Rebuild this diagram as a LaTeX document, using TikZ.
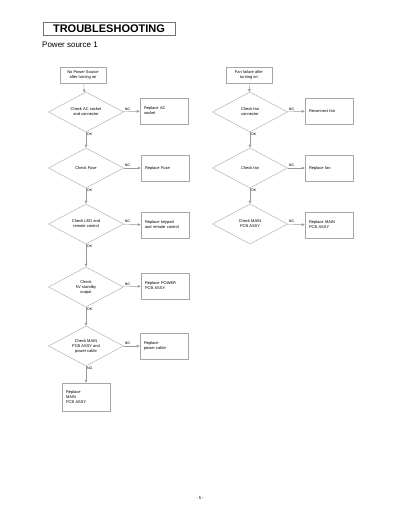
\documentclass[tikz,border=0pt]{standalone}
\usepackage{fontspec}
\setmainfont{Liberation Sans}
\usetikzlibrary{shapes.geometric,arrows.meta}
\tikzset{
  chk/.style={draw=gray!70, diamond, aspect=1.9, minimum width=75pt, minimum height=40pt, inner sep=0pt, align=center, font=\fontsize{4}{5}\selectfont},
  fixbox/.style={draw=gray!70, minimum width=48pt, minimum height=26pt, text width=40pt, align=left, font=\fontsize{4}{5}\selectfont},
  startbox/.style={draw=gray!70, minimum width=46pt, minimum height=16pt, align=center, font=\fontsize{4}{5}\selectfont},
  flow/.style={draw=gray!80, -{Latex[length=3pt,width=3pt]}},
  lbl/.style={font=\fontsize{3.5}{4}\selectfont, inner sep=1pt}
}
\begin{document}
\begin{tikzpicture}[x=1pt,y=-1pt]
\useasboundingbox (0,0) rectangle (400,518);
\node[draw=gray!90!black, line width=0.9pt, minimum width=132pt, minimum height=13pt, inner sep=0pt, font=\fontsize{11}{12}\selectfont\bfseries] (title) at (109,28.5) {TROUBLESHOOTING};
\node[anchor=west, font=\fontsize{8}{9}\selectfont, inner sep=0pt] (sub) at (42,45) {Power source 1};
% left column
\node[startbox] (np) at (83,75) {No Power Source\\after turning on};
\node[chk] (c1) at (86,112) {Check AC socket\\and connector};
\node[fixbox] (r1) at (164,111) {Replace AC\\socket};
\node[chk] (c2) at (86,168) {Check Fuse};
\node[fixbox] (r2) at (165,168) {Replace Fuse};
\node[chk] (c3) at (86,224) {Check LED and\\remote control};
\node[fixbox] (r3) at (165,225) {Replace keypad\\and remote control};
\node[chk] (c4) at (86,287) {Check\\5V standby\\output};
\node[fixbox] (r4) at (165,286) {Replace POWER\\PCB ASSY};
\node[chk] (c5) at (86,346) {Check MAIN\\PCB ASSY and\\power cable};
\node[fixbox] (r5) at (164,346) {Replace\\power cable};
\node[fixbox, minimum height=28pt] (r6) at (86,397) {Replace\\MAIN\\PCB ASSY};
\draw[flow] (np) -- (c1);
\draw[flow] (c1) -- (c2);
\draw[flow] (c2) -- (c3);
\draw[flow] (c3) -- (c4);
\draw[flow] (c4) -- (c5);
\draw[flow] (c5) -- (r6);
\draw[flow] (c1) -- (r1);
\draw[flow] (c2) -- (r2);
\draw[flow] (c3) -- (r3);
\draw[flow] (c4) -- (r4);
\draw[flow] (c5) -- (r5);
\node[lbl, anchor=south west] (ng1) at (c1.east) {NG};
\node[lbl, anchor=south west] (ng2) at (c2.east) {NG};
\node[lbl, anchor=south west] (ng3) at (c3.east) {NG};
\node[lbl, anchor=south west] (ng4) at (c4.east) {NG};
\node[lbl, anchor=south west] (ng5) at (c5.east) {NG};
\node[lbl, anchor=north west] (ok1) at (c1.south) {OK};
\node[lbl, anchor=north west] (ok2) at (c2.south) {OK};
\node[lbl, anchor=north west] (ok3) at (c3.south) {OK};
\node[lbl, anchor=north west] (ok4) at (c4.south) {OK};
\node[lbl, anchor=north west] (ng6) at (c5.south) {NG};
% right column
\node[startbox] (ff) at (249,75) {Fan failure after\\turning on};
\node[chk] (d1) at (250,112) {Check fan\\connector};
\node[fixbox] (s1) at (329,111) {Reconnect fan};
\node[chk] (d2) at (250,168) {Check fan};
\node[fixbox] (s2) at (329,168) {Replace fan};
\node[chk] (d3) at (250,224) {Check MAIN\\PCB ASSY};
\node[fixbox] (s3) at (329,225) {Replace MAIN\\PCB ASSY};
\draw[flow] (ff) -- (d1);
\draw[flow] (d1) -- (d2);
\draw[flow] (d2) -- (d3);
\draw[flow] (d1) -- (s1);
\draw[flow] (d2) -- (s2);
\draw[flow] (d3) -- (s3);
\node[lbl, anchor=south west] (mg1) at (d1.east) {NG};
\node[lbl, anchor=south west] (mg2) at (d2.east) {NG};
\node[lbl, anchor=south west] (mg3) at (d3.east) {NG};
\node[lbl, anchor=north west] (mk1) at (d1.south) {OK};
\node[lbl, anchor=north west] (mk2) at (d2.south) {OK};
\node[font=\fontsize{4}{5}\selectfont] (pg) at (200,498) {- 5 -};
\end{tikzpicture}
\end{document}
